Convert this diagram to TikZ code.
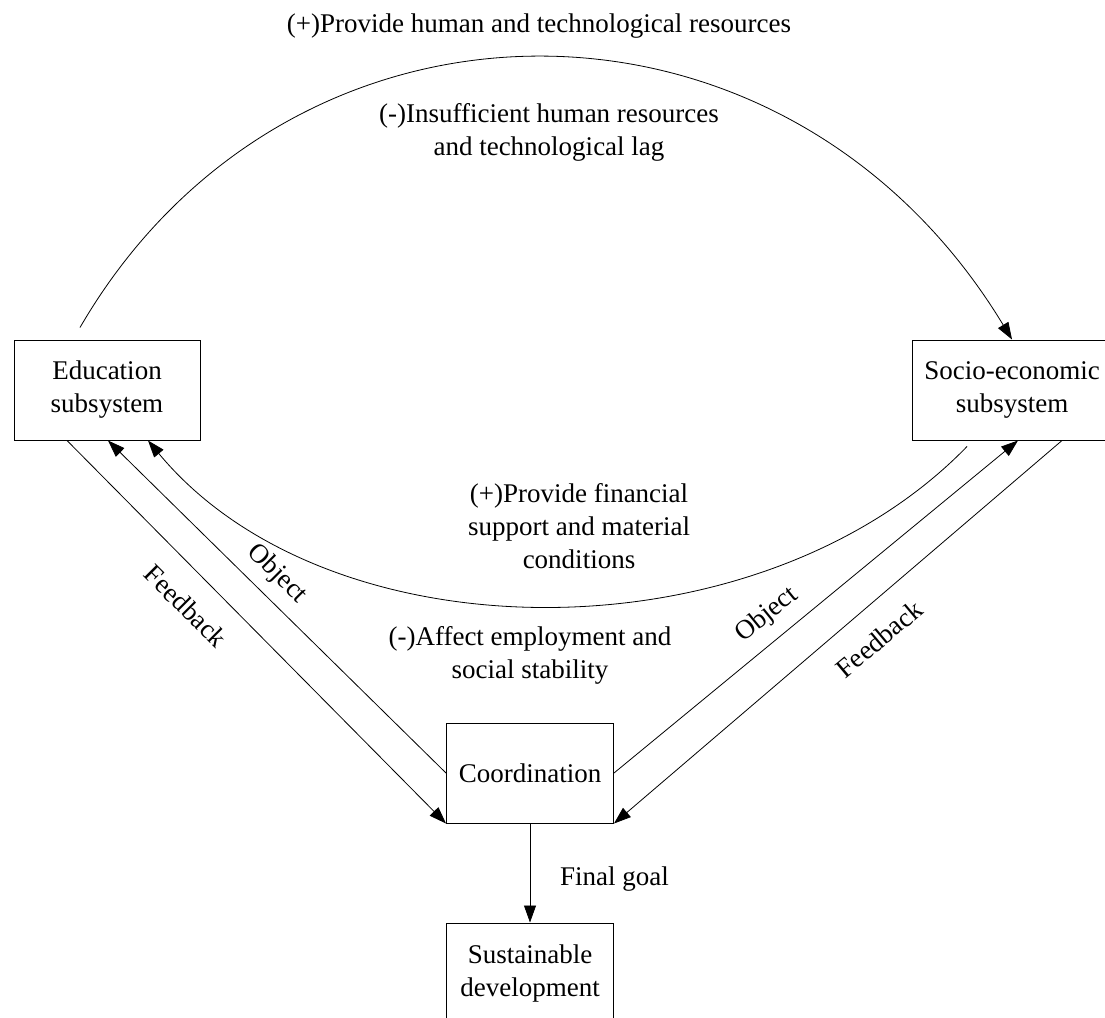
\documentclass[tikz,border=0pt]{standalone}
\usepackage{fontspec}
\setmainfont{Liberation Serif}
\usetikzlibrary{arrows.meta}
\begin{document}
\begin{tikzpicture}[x=1pt,y=-1pt,
  every node/.style={font=\fontsize{27}{33}\selectfont},
  boxnode/.style={draw,line width=1pt,rectangle,inner sep=0pt,align=center,minimum height=100pt},
  lab/.style={align=center,inner sep=0pt},
  conn/.style={line width=0.8pt},
  arr/.style={conn,-{Triangle[length=17pt,width=12pt]}}
]
\clip (0,0) rectangle (1105,1017);
\fill[white] (0,0) rectangle (1105,1017);

\node[boxnode,minimum width=186pt] (edu) at (107,390) {Education\\subsystem};
\node[boxnode,minimum width=200pt] (socio) at (1012,390) {Socio-economic\\subsystem};
\node[boxnode,minimum width=167pt] (coord) at (530,773) {Coordination};
\node[boxnode,minimum width=167pt] (sust) at (530,973) {Sustainable\\development};

% top arc
\draw[arr] ([shift={(-27pt,12pt)}]edu.north) .. controls (290,-34) and (786,-34) .. (socio.north);
% lower arc
\draw[arr] ([shift={(-45pt,-6pt)}]socio.south) .. controls (760,660) and (330,660) .. ([xshift=41pt]edu.south);
% left feedback / object
\draw[arr] ([xshift=-40pt]edu.south) -- (coord.south west);
\draw[arr] (coord.west) -- ([xshift=1pt]edu.south);
% right object / feedback
\draw[arr] (coord.east) -- ([xshift=6pt]socio.south);
\draw[arr] ([xshift=50pt]socio.south) -- (coord.south east);
% final goal
\draw[arr] (coord.south) -- (sust.north);

\node[lab,anchor=base] (t1) at (539,32) {(+)Provide human and technological resources};
\node[lab] (t2) at (549,132) {(-)Insufficient human resources\\and technological lag};
\node[lab] (t3) at (579,526) {(+)Provide financial\\support and material\\conditions};
\node[lab] (t4) at (530,655) {(-)Affect employment and\\social stability};
\node[lab,anchor=base west] (t5) at (560,885) {Final goal};
\node[lab,rotate=-45] (fbl) at (186,606) {Feedback};
\node[lab,rotate=-45] (obl) at (277,574) {Object};
\node[lab,rotate=39] (obr) at (767,615) {Object};
\node[lab,rotate=40] (fbr) at (879,639) {Feedback};
\end{tikzpicture}
\end{document}
